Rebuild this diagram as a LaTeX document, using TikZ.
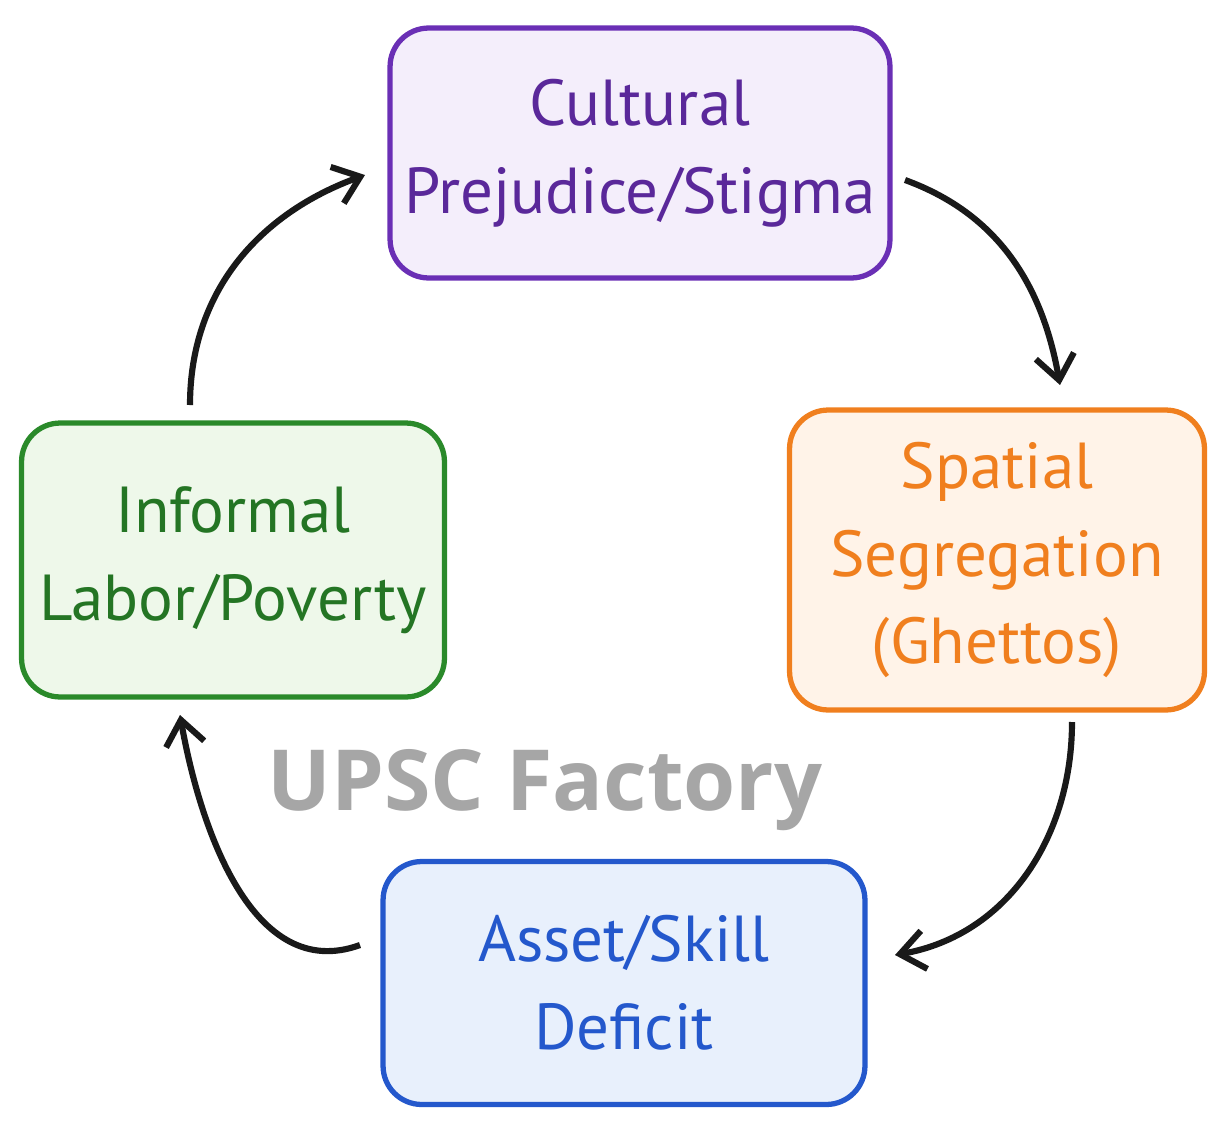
\documentclass[tikz,border=0pt]{standalone}
\usepackage{fontspec}
\setmainfont{PT Sans}
\newfontfamily\markfont{Open Sans}
\usetikzlibrary{arrows.meta}

\definecolor{purpleline}{HTML}{6A2FB5}
\definecolor{purplefill}{HTML}{F4EEFB}
\definecolor{orangeline}{HTML}{F07F1E}
\definecolor{orangefill}{HTML}{FFF3E8}
\definecolor{blueline}{HTML}{2458CC}
\definecolor{bluefill}{HTML}{E8F0FC}
\definecolor{greenline}{HTML}{2A8A2A}
\definecolor{greenfill}{HTML}{EEF8EA}

\tikzset{
  stage/.style={draw, line width=3pt, rounded corners=22pt, align=center,
    inner sep=0pt, font=\fontsize{37}{50}\selectfont},
  cycle/.style={-{Straight Barb[length=14pt,width=22pt,line width=3.5pt]},
    line width=3.5pt, black!90}
}

\begin{document}
\begin{tikzpicture}[x=0.02cm,y=-0.02cm]
  \useasboundingbox (0,0) rectangle (1230,1129);

  \node[stage, draw=purpleline, fill=purplefill, text=purpleline!85!black,
    minimum width=10cm, minimum height=5cm] (cult) at (640,153) {Cultural\\Prejudice/Stigma};
  \node[stage, draw=orangeline, fill=orangefill, text=orangeline,
    minimum width=8.3cm, minimum height=6cm] (spat) at (997,560) {Spatial\\Segregation\\(Ghettos)};
  \node[stage, draw=blueline, fill=bluefill, text=blueline,
    minimum width=9.64cm, minimum height=4.86cm] (asset) at (624,983) {Asset/Skill\\Deficit};
  \node[stage, draw=greenline, fill=greenfill, text=greenline!85!black,
    minimum width=8.46cm, minimum height=5.48cm] (labor) at (233,560) {Informal\\Labor/Poverty};

  \node[text=black!35, font=\markfont\bfseries\fontsize{48}{56}\selectfont] (mark) at (545,790) {UPSC Factory};

  \coordinate (c1) at (905,180);  \coordinate (c2) at (1060,385);
  \coordinate (c3) at (1072,722); \coordinate (c4) at (895,955);
  \coordinate (c5) at (360,945);  \coordinate (c6) at (180,715);
  \coordinate (c7) at (190,405);  \coordinate (c8) at (365,175);

  \draw[cycle] (c1) to[out=-20, in=100] (c2);
  \draw[cycle] (c3) to[out=-90, in=10] (c4);
  \draw[cycle] (c5) to[out=200, in=-80] (c6);
  \draw[cycle] (c7) to[out=90, in=200] (c8);
\end{tikzpicture}
\end{document}
